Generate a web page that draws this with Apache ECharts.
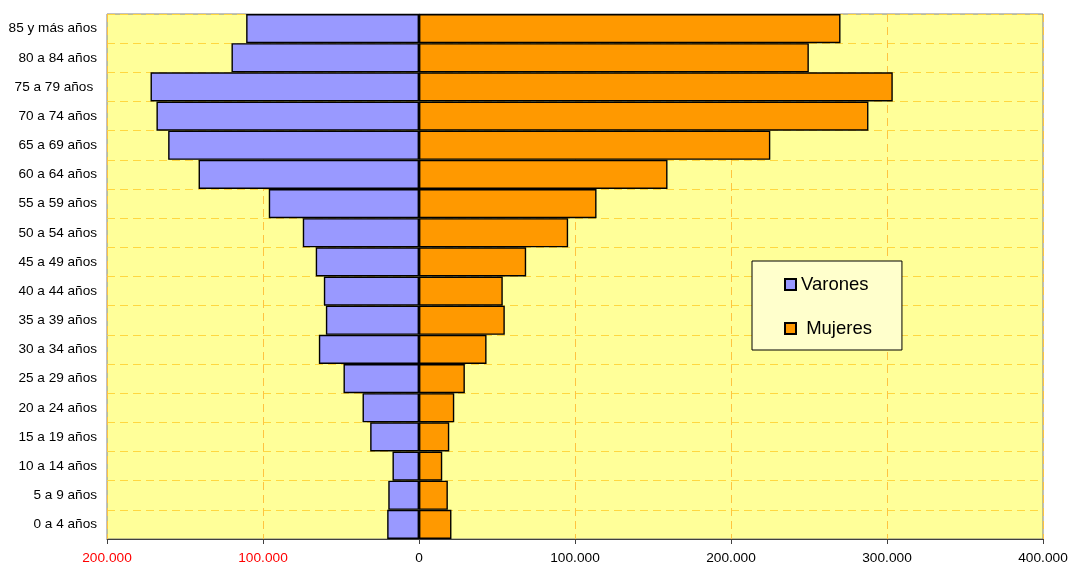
<!DOCTYPE html>
<html>
<head>
<meta charset="utf-8">
<script src="https://cdn.jsdelivr.net/npm/echarts@6/dist/echarts.min.js"></script>
<style>
  html, body { margin: 0; padding: 0; background: #fff; }
  #piramide { width: 1071px; height: 570px; }
</style>
</head>
<body>
<div id="piramide"></div>
<script>
  // grupos de edad, de abajo hacia arriba
  var grupos = ['0 a 4 años', '5 a 9 años', '10 a 14 años', '15 a 19 años', '20 a 24 años',
    '25 a 29 años', '30 a 34 años', '35 a 39 años', '40 a 44 años', '45 a 49 años',
    '50 a 54 años', '55 a 59 años', '60 a 64 años', '65 a 69 años', '70 a 74 años',
    '75 a 79 años ', '80 a 84 años', '85 y más años'];
  // varones (se dibujan hacia la izquierda)
  var varones = [20400, 19700, 17000, 31300, 36200, 48400, 64200, 59700, 61000, 66200,
    74500, 96300, 141300, 160800, 168300, 172100, 120200, 110800];
  var mujeres = [20800, 18500, 14900, 19400, 22600, 29400, 43300, 55000, 53700, 68700,
    95600, 113800, 159300, 225200, 288100, 303700, 249900, 270200];

  var fuente = '"Liberation Sans", Arial, sans-serif';

  function miles(v) {
    return String(Math.abs(v)).replace(/\B(?=(\d{3})+(?!\d))/g, '.');
  }

  var option = {
    animation: false,
    textStyle: { fontFamily: fuente },
    grid: {
      show: true,
      left: 107,
      right: 28,
      top: 14,
      bottom: 31,
      backgroundColor: '#FFFF99',
      borderColor: '#808080',
      borderWidth: 1
    },
    legend: {
      orient: 'vertical',
      left: 752,
      top: 261,
      padding: [14, 30, 12, 32],
      itemGap: 25,
      itemWidth: 11,
      itemHeight: 11,
      backgroundColor: '#FFFFCC',
      borderColor: '#000',
      borderWidth: 1,
      icon: 'rect',
      formatter: function (name) {
        return name === 'Mujeres' ? ' ' + name : name;
      },
      textStyle: { fontSize: 18.5, color: '#000', fontFamily: fuente },
      data: ['Varones', 'Mujeres']
    },
    xAxis: {
      type: 'value',
      min: -200000,
      max: 400000,
      interval: 100000,
      axisLine: { show: true, lineStyle: { color: '#404040', width: 1 } },
      axisTick: { show: true, length: 5, lineStyle: { color: '#404040' } },
      axisLabel: {
        fontSize: 13.7,
        margin: 12,
        fontFamily: fuente,
        formatter: miles,
        color: function (v) {
          return v < 0 ? '#FF0000' : '#000';
        }
      },
      splitLine: {
        show: true,
        lineStyle: { color: '#FFC340', type: [8, 5], width: 1 }
      }
    },
    yAxis: {
      type: 'category',
      data: grupos,
      axisLine: { show: true, lineStyle: { color: '#808080' } },
      axisTick: { show: false },
      axisLabel: { fontSize: 13.6, color: '#000', margin: 10, fontFamily: fuente },
      splitLine: {
        show: true,
        lineStyle: { color: '#FFD740', type: [8, 5], width: 1 }
      }
    },
    series: [{
      name: 'Varones',
      type: 'bar',
      barCategoryGap: 0,
      barGap: '-100%',
      itemStyle: { color: '#9999FF', borderColor: '#000', borderWidth: 1.4 },
      data: varones.map(function (v) { return -v; })
    }, {
      name: 'Mujeres',
      type: 'bar',
      barCategoryGap: 0,
      barGap: '-100%',
      itemStyle: { color: '#FF9900', borderColor: '#000', borderWidth: 1.4 },
      data: mujeres
    }]
  };

  echarts.init(document.getElementById('piramide')).setOption(option);
</script>
</body>
</html>
